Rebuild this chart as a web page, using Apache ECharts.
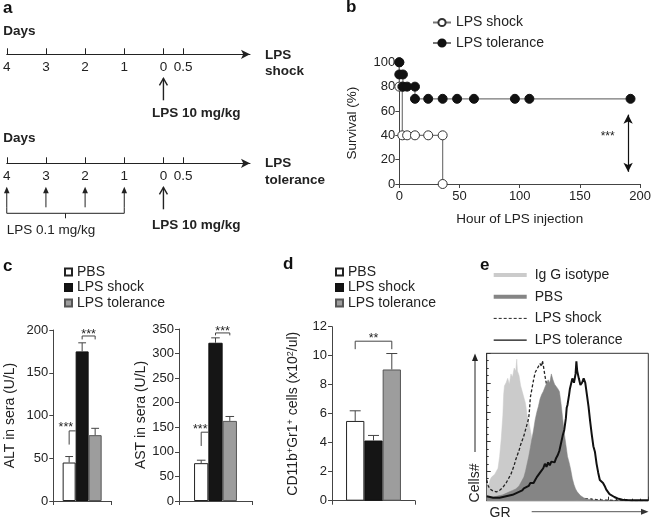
<!DOCTYPE html>
<html><head><meta charset="utf-8">
<script src="https://cdn.jsdelivr.net/npm/echarts@6/dist/echarts.min.js"></script>
<style>html,body{margin:0;padding:0;background:#fff}#c{width:654px;height:523px}</style>
</head><body><div id="c"></div>
<script>
// ---------------- data ----------------
// panel a: protocol timeline (days)
const dayTicks = [-4, -3, -2, -1, 0, 0.5];
const highDoseDays = [0];
const lowDoseDays = [-4, -3, -2, -1];

// panel b: survival (hour, %)
const shockSurvival = [[0,100],[0,80],[2.5,80],[2.5,40],[6.5,40],[13,40],[24,40],[36,40],[36,0]];
const toleranceSurvival = [[0,100],[0,90],[3,90],[3,80],[6.5,80],[13,80],[13,70],[24,70],[36,70],[48,70],[62,70],[96,70],[108,70],[192,70]];
const survivalSigArrow = [190, 57, 10];   // hour, from %, to %
const survivalSigLabel = [173, 38.6, '***'];

// panel c / d: bar groups
const groups = ['PBS', 'LPS shock', 'LPS tolerance'];
const altMean = [45, 175, 77],  altErr = [7, 10, 8];
const astMean = [77, 322, 163], astErr = [6, 10, 9];
const cdMean = [5.5, 4.15, 9.05], cdErr = [0.7, 0.35, 1.1];
const altBrackets = [
  {from:0, to:0.5, top:82, end1:66, end2:82, label:'***', labelAt:-0.25, labelDy:-3},
  {from:1, to:2, top:193, end1:189, end2:189, label:'***', labelAt:1.5, labelDy:-1.3}
];
const astBrackets = [
  {from:0, to:0.5, top:140, end1:112, end2:140, label:'***', labelAt:-0.07, labelDy:-3},
  {from:1, to:2, top:342, end1:337, end2:337, label:'***', labelAt:1.5, labelDy:-1.3}
];
const cdBrackets = [
  {from:0, to:2, top:11, end1:10.45, end2:10.45, label:'**', labelAt:1, labelDy:-2.3}
];

// panel e: flow histograms (GR channel 0-100, % of max)
const isoHist = [[0,12],[1,9],[2,14],[3,16],[4,15],[5,18],[6,17],[7,22],[8,30],[9,42],[10,58],[10.5,72],[11,78],[12,80],[13,83],[14,79],[15,86],[16,84],[17,90],[18,88],[18.6,96],[19,88],[20,85],[21,78],[22,74],[23,70],[24,66],[25,58],[26,54],[27,48],[28,42],[29,38],[30,33],[31,29],[32,25],[33,21],[34,17],[35,14],[36,11],[38,8],[40,6],[42,4],[44,3],[46,2.2],[48,1.8],[50,1.2],[53,0.8],[56,0.5],[60,0.3],[65,0],[100,0]];
const pbsHist = [[0,3],[2,2],[4,2.5],[6,3],[8,3.5],[10,4],[12,5],[14,6],[16,7],[18,8],[20,10],[21,12],[22,14],[23,16],[24,20],[25,25],[26,30],[27,36],[28,42],[29,48],[30,55],[31,60],[32,64],[33,69],[34,72],[35,74],[36,77],[37,76],[38,82],[39,80],[40,86],[41,82],[42,79],[43,80],[44,76],[45,74],[46,66],[47,56],[48,46],[49,38],[50,30],[51,26],[52,21],[53,15],[54,11],[55,8],[56,6],[58,3.5],[60,2],[62,1.2],[65,0.6],[70,0.3],[75,0],[100,0]];
const shockHist = [[0,14],[1,10],[2,8],[3,7],[4,6.5],[5,6],[6,6],[7,6.5],[8,7],[9,8],[10,9],[11,10.5],[12,12],[13,14],[14,16],[15,18],[16,21],[17,24],[18,28],[19,31],[20,34],[21,38],[22,41],[23,44],[24,48],[25,52],[26,56],[26.5,62],[27,70],[28,76],[29,82],[30,87],[31,89],[32,90],[33,93],[34,91],[34.5,95],[35,92],[36,85],[37,79],[38,76],[39,72],[40,68],[41,63],[42,58],[43,52],[44,46],[45,40],[46,33],[47,27],[48,21],[49,16],[50,12],[52,7],[54,4],[56,2.5],[60,1.5],[65,1],[70,0.5],[80,0.2],[100,0]];
const tolHist = [[0,3],[2,2.5],[4,2],[6,2],[8,2],[10,2.5],[12,3],[14,3.5],[16,4],[18,5],[20,6],[22,7],[23,8.4],[24,9],[26,10],[27,12],[28,13],[29,12],[30,14],[31,16],[32,17.5],[33,19],[34,20],[35,22],[36,25],[37,23],[38,26],[39,24],[40,26.5],[41,27],[42,26],[43,29],[44,31],[45,34],[46,39],[47,44],[48,48],[49,56],[49.5,63],[50,65],[51,72],[51.5,76],[52,75],[53,83],[54,80],[55,86],[55.5,94.5],[56,88],[57,83],[58,78.5],[59,80],[60,83],[61,80],[62,72],[63,64],[64,54],[65,45],[66,37],[67,33],[68,25],[69,19],[70,14],[71,13],[72,12],[73,10],[74,7.5],[75,6],[76,4.5],[77,3.5],[79,2.5],[81,1.5],[84,0.6],[87,0.4],[90,0.3],[100,0.3]];

// ---------------- chart ----------------
const FF = '"Liberation Sans", Arial, Helvetica, sans-serif';
const INK = '#222';
const AX = '#444';
const nameOf = n => n.split('|')[1];
const chart = echarts.init(document.getElementById('c'), null, {renderer: 'canvas'});

function timelineAxis(gi) {
  return {gridIndex: gi, type: 'value', min: -4, max: 2.21,
    axisLine: {show: true, symbol: ['none', 'arrow'], symbolSize: [7, 9], lineStyle: {color: INK, width: 1}},
    axisTick: {show: true, inside: true, length: 6, customValues: dayTicks, lineStyle: {color: INK}},
    axisLabel: {show: true, customValues: dayTicks, formatter: v => String(Math.abs(v)), margin: 6, fontSize: 13.5, color: INK, fontFamily: FF},
    splitLine: {show: false}};
}
function hiddenY(gi) { return {gridIndex: gi, type: 'value', min: 0, max: 1, show: false}; }

function highDoseSeries(gi, textOff) {
  return {type: 'custom', xAxisIndex: gi, yAxisIndex: gi, clip: false, silent: true,
    data: highDoseDays.map(d => [d, 0]),
    renderItem(params, api) {
      const p = api.coord([api.value(0), 0]);
      const x = p[0], y = p[1];
      return {type: 'group', children: [
        {type: 'line', shape: {x1: x, y1: y + 46, x2: x, y2: y + 24}, style: {stroke: INK, lineWidth: 1.4}},
        {type: 'polyline', shape: {points: [[x - 4, y + 31], [x, y + 24], [x + 4, y + 31]]}, style: {stroke: INK, lineWidth: 1.4, fill: null}},
        {type: 'text', x: x - 11.5, y: y + textOff, style: {text: 'LPS 10 mg/kg', fontFamily: FF, fontSize: 13.5, fontWeight: 'bold', fill: INK, align: 'left', verticalAlign: 'middle'}}
      ]};
    }};
}
function lowDoseSeries(gi) {
  return {type: 'custom', xAxisIndex: gi, yAxisIndex: gi, clip: false, silent: true,
    data: lowDoseDays.map(d => [d, 0]),
    renderItem(params, api) {
      const p = api.coord([api.value(0), 0]);
      const x = p[0], y = p[1];
      const ch = [
        {type: 'line', shape: {x1: x, y1: y + 44, x2: x, y2: y + 28}, style: {stroke: INK, lineWidth: 1}},
        {type: 'polygon', shape: {points: [[x - 2.8, y + 30], [x, y + 23.5], [x + 2.8, y + 30]]}, style: {fill: INK}}
      ];
      if (params.dataIndex === 0) {
        const xs = lowDoseDays.map(d => api.coord([d, 0])[0]);
        const x0 = Math.min(...xs), x1 = Math.max(...xs), xm = (x0 + x1) / 2;
        ch.push({type: 'polyline', shape: {points: [[x0, y + 44], [x0, y + 50], [x1, y + 50], [x1, y + 44]]}, style: {stroke: INK, lineWidth: 1, fill: null}});
        ch.push({type: 'line', shape: {x1: xm, y1: y + 50, x2: xm, y2: y + 55}, style: {stroke: INK, lineWidth: 1}});
        ch.push({type: 'text', x: x0, y: y + 66.7, style: {text: 'LPS 0.1 mg/kg', fontFamily: FF, fontSize: 13.5, fill: INK, align: 'left', verticalAlign: 'middle'}});
      }
      return {type: 'group', children: ch};
    }};
}

function barAxisX(gi) {
  return {gridIndex: gi, type: 'category', data: ['v'],
    axisLine: {show: true, lineStyle: {color: AX}}, axisTick: {show: true, length: 4, lineStyle: {color: AX}},
    axisLabel: {show: false}, splitLine: {show: false}};
}
function barAxisY(gi, max, interval, name, nameGap, extra) {
  return Object.assign({gridIndex: gi, type: 'value', min: 0, max: max, interval: interval,
    name: name, nameLocation: 'middle', nameGap: nameGap, nameRotate: 90,
    nameTextStyle: {fontSize: 14, color: INK, fontFamily: FF},
    axisLine: {show: true, lineStyle: {color: AX}}, axisTick: {show: true, length: 4, lineStyle: {color: AX}},
    axisLabel: {fontSize: 13, color: INK, fontFamily: FF, margin: 5}, splitLine: {show: false}}, extra || {});
}
const barStyles = [
  {color: '#ffffff', borderColor: '#222', borderWidth: 1},
  {color: '#151515', borderColor: '#111', borderWidth: 1},
  {color: '#9d9d9d', borderColor: '#555', borderWidth: 1}
];
function barSeries(gi, prefix, means, bw) {
  return groups.map((g, i) => ({type: 'bar', name: prefix + '|' + g, xAxisIndex: gi, yAxisIndex: gi,
    data: [means[i]], barWidth: bw, barGap: '0%', itemStyle: barStyles[i], z: 2}));
}
function errSeries(gi, means, errs, bw) {
  return {type: 'custom', xAxisIndex: gi, yAxisIndex: gi, clip: false, silent: true, z: 5,
    data: means.map((m, i) => [0, m, errs[i], i]),
    renderItem(params, api) {
      const base = api.coord([0, api.value(1)]);
      const top = api.coord([0, api.value(1) + api.value(2)]);
      const x = base[0] + (api.value(3) - 1) * bw;
      const cap = bw * 0.3;
      return {type: 'group', children: [
        {type: 'line', shape: {x1: x, y1: base[1], x2: x, y2: top[1]}, style: {stroke: '#444', lineWidth: 1}},
        {type: 'line', shape: {x1: x - cap, y1: top[1], x2: x + cap, y2: top[1]}, style: {stroke: '#444', lineWidth: 1}}
      ]};
    }};
}
function bracketSeries(gi, list, bw) {
  return {type: 'custom', xAxisIndex: gi, yAxisIndex: gi, clip: false, silent: true, z: 6,
    data: list.map((b, i) => [0, b.top, i]),
    renderItem(params, api) {
      const b = list[params.dataIndex];
      const c = api.coord([0, b.top]);
      const xAt = g => c[0] + (g - 1) * bw;
      const yAt = v => api.coord([0, v])[1];
      const x1 = xAt(b.from), x2 = xAt(b.to), yt = c[1];
      return {type: 'group', children: [
        {type: 'polyline', shape: {points: [[x1, yAt(b.end1)], [x1, yt], [x2, yt], [x2, yAt(b.end2)]]}, style: {stroke: '#444', lineWidth: 1, fill: null}},
        {type: 'text', x: xAt(b.labelAt), y: yt + b.labelDy, style: {text: b.label, fontFamily: FF, fontSize: 12.5, fill: INK, align: 'center', verticalAlign: 'middle'}}
      ]};
    }};
}

const BW_ALT = 13, BW_AST = 14.3, BW_CD = 18.3;
const legendText = {fontSize: 14, color: INK, fontFamily: FF};

const option = {
  animation: false,
  backgroundColor: '#fff',
  textStyle: {fontFamily: FF, color: INK},
  grid: [
    {left: 6.7, top: 44, width: 243.3, height: 10.3},
    {left: 6.7, top: 153, width: 243.3, height: 10.3},
    {left: 399.3, top: 62.3, width: 243, height: 121.7},
    {left: 53.3, top: 330, width: 57.7, height: 171},
    {left: 179, top: 329, width: 73, height: 172},
    {left: 332, top: 326.7, width: 83, height: 174},
    {left: 486.7, top: 353.3, width: 161.6, height: 147.4, show: true, borderColor: '#333', borderWidth: 1, backgroundColor: 'transparent'}
  ],
  xAxis: [
    timelineAxis(0), timelineAxis(1),
    {gridIndex: 2, type: 'value', min: 0, max: 200, interval: 50,
      name: 'Hour of LPS injection', nameLocation: 'middle', nameGap: 28,
      nameTextStyle: {fontSize: 13.5, color: INK, fontFamily: FF},
      axisLine: {show: true, lineStyle: {color: AX}}, axisTick: {show: true, length: 4, lineStyle: {color: AX}},
      axisLabel: {fontSize: 13, color: INK, fontFamily: FF, margin: 6}, splitLine: {show: false}},
    barAxisX(3), barAxisX(4), barAxisX(5),
    {gridIndex: 6, type: 'value', min: 0, max: 100, interval: 25,
      axisLine: {show: true, lineStyle: {color: '#333'}},
      axisTick: {show: true, inside: true, length: 4, lineStyle: {color: '#333'}},
      minorTick: {show: true, splitNumber: 5, length: 2, lineStyle: {color: '#333'}},
      axisLabel: {show: false}, splitLine: {show: false}}
  ],
  yAxis: [
    hiddenY(0), hiddenY(1),
    {gridIndex: 2, type: 'value', min: 0, max: 100, interval: 20,
      name: 'Survival (%)', nameLocation: 'middle', nameGap: 40.5, nameRotate: 90,
      nameTextStyle: {fontSize: 13.5, color: INK, fontFamily: FF},
      axisLine: {show: true, lineStyle: {color: AX}}, axisTick: {show: true, length: 4, lineStyle: {color: AX}},
      axisLabel: {fontSize: 13, color: INK, fontFamily: FF, margin: 4}, splitLine: {show: false}},
    barAxisY(3, 200, 50, 'ALT in sera (U/L)', 36),
    barAxisY(4, 350, 50, 'AST in sera (U/L)', 25),
    barAxisY(5, 12, 2, 'CD11b{s|+}Gr1{s|+} cells (x10{s|2}/ul)', 31.5,
      {nameTextStyle: {fontSize: 14, color: INK, fontFamily: FF, rich: {s: {fontSize: 9, verticalAlign: 'top', fontFamily: FF, color: INK}}}}),
    {gridIndex: 6, type: 'value', min: 0, max: 100, interval: 20,
      axisLine: {show: true, lineStyle: {color: '#333'}},
      axisTick: {show: true, inside: true, length: 4, lineStyle: {color: '#333'}},
      minorTick: {show: true, splitNumber: 4, length: 2, lineStyle: {color: '#333'}},
      axisLabel: {show: false}, splitLine: {show: false}}
  ],
  legend: [
    {data: ['b|LPS shock', 'b|LPS tolerance'], formatter: nameOf, orient: 'vertical', left: 432, top: 15.5,
      itemWidth: 18, itemHeight: 9, itemGap: 6.5, padding: 0, textStyle: legendText},
    {data: ['c|PBS', 'c|LPS shock', 'c|LPS tolerance'], formatter: nameOf, orient: 'vertical', left: 64, top: 265,
      icon: 'rect', itemWidth: 7, itemHeight: 7, itemGap: 1.5, padding: 0, textStyle: legendText},
    {data: ['d|PBS', 'd|LPS shock', 'd|LPS tolerance'], formatter: nameOf, orient: 'vertical', left: 335, top: 265,
      icon: 'rect', itemWidth: 7, itemHeight: 7, itemGap: 1.5, padding: 0, textStyle: legendText},
    {data: [{name: 'e|Ig G isotype', lineStyle: {width: 4}}, {name: 'e|PBS', lineStyle: {width: 4}},
            {name: 'e|LPS shock', lineStyle: {width: 1}}, {name: 'e|LPS tolerance', lineStyle: {width: 1.2}}],
      formatter: nameOf, orient: 'vertical', left: 491.7, top: 268, itemWidth: 33, itemHeight: 10, itemGap: 7.7, padding: 0,
      itemStyle: {opacity: 0},
      textStyle: {fontSize: 14, color: INK, fontFamily: FF, padding: [0, 0, 0, 3]}}
  ],
  series: [
    highDoseSeries(0, 58.7),
    highDoseSeries(1, 61.7),
    lowDoseSeries(1),
    {type: 'line', name: 'b|LPS shock', xAxisIndex: 2, yAxisIndex: 2, data: shockSurvival,
      symbol: 'circle', symbolSize: 9, showAllSymbol: true, z: 3,
      lineStyle: {color: '#777', width: 1.2}, itemStyle: {color: '#fff', borderColor: '#333', borderWidth: 1}},
    {type: 'line', name: 'b|LPS tolerance', xAxisIndex: 2, yAxisIndex: 2, data: toleranceSurvival,
      symbol: 'circle', symbolSize: 9, showAllSymbol: true, z: 4,
      lineStyle: {color: '#777', width: 1.2}, itemStyle: {color: '#111', borderColor: '#111', borderWidth: 1},
      markLine: {silent: true, symbol: ['arrow', 'arrow'], symbolSize: [7, 9], label: {show: false},
        lineStyle: {color: '#111', width: 1.2, type: 'solid'},
        data: [[{coord: [survivalSigArrow[0], survivalSigArrow[1]]}, {coord: [survivalSigArrow[0], survivalSigArrow[2]]}]]},
      markPoint: {silent: true, symbol: 'circle', symbolSize: 0,
        data: [{coord: [survivalSigLabel[0], survivalSigLabel[1]], label: {show: true, formatter: survivalSigLabel[2], position: 'inside', fontSize: 12, color: INK, fontFamily: FF}}]}},
    ...barSeries(3, 'c', altMean, BW_ALT), errSeries(3, altMean, altErr, BW_ALT), bracketSeries(3, altBrackets, BW_ALT),
    ...barSeries(4, 'c', astMean, BW_AST), errSeries(4, astMean, astErr, BW_AST), bracketSeries(4, astBrackets, BW_AST),
    ...barSeries(5, 'd', cdMean, BW_CD), errSeries(5, cdMean, cdErr, BW_CD), bracketSeries(5, cdBrackets, BW_CD),
    {type: 'line', name: 'e|Ig G isotype', xAxisIndex: 6, yAxisIndex: 6, data: isoHist, symbol: 'none', z: 2,
      lineStyle: {color: '#cbcbcb', width: 0.5}, areaStyle: {color: '#cbcbcb', opacity: 1}},
    {type: 'line', name: 'e|PBS', xAxisIndex: 6, yAxisIndex: 6, data: pbsHist, symbol: 'none', z: 4,
      lineStyle: {color: '#858585', width: 0.5}, areaStyle: {color: '#858585', opacity: 1}},
    {type: 'line', name: 'e|LPS shock', xAxisIndex: 6, yAxisIndex: 6, data: shockHist, symbol: 'none', z: 3,
      lineStyle: {color: '#222', width: 1.3, type: [3, 2]}},
    {type: 'line', name: 'e|LPS tolerance', xAxisIndex: 6, yAxisIndex: 6, data: tolHist, symbol: 'none', z: 5,
      lineStyle: {color: '#111', width: 2}}
  ],
  graphic: [
    {type: 'text', left: 3, top: 0, style: {text: 'a', fontFamily: FF, fontSize: 17, fontWeight: 'bold', fill: '#111'}},
    {type: 'text', left: 346, top: -1, style: {text: 'b', fontFamily: FF, fontSize: 17, fontWeight: 'bold', fill: '#111'}},
    {type: 'text', left: 3, top: 258, style: {text: 'c', fontFamily: FF, fontSize: 17, fontWeight: 'bold', fill: '#111'}},
    {type: 'text', left: 283, top: 256, style: {text: 'd', fontFamily: FF, fontSize: 17, fontWeight: 'bold', fill: '#111'}},
    {type: 'text', left: 480, top: 257, style: {text: 'e', fontFamily: FF, fontSize: 17, fontWeight: 'bold', fill: '#111'}},
    {type: 'text', x: 3.3, y: 31, style: {text: 'Days', fontFamily: FF, fontSize: 13.5, fontWeight: 'bold', fill: INK, verticalAlign: 'middle'}},
    {type: 'text', x: 3.3, y: 138, style: {text: 'Days', fontFamily: FF, fontSize: 13.5, fontWeight: 'bold', fill: INK, verticalAlign: 'middle'}},
    {type: 'text', x: 265, y: 55, style: {text: 'LPS', fontFamily: FF, fontSize: 13.5, fontWeight: 'bold', fill: INK, verticalAlign: 'middle'}},
    {type: 'text', x: 265, y: 71.5, style: {text: 'shock', fontFamily: FF, fontSize: 13.5, fontWeight: 'bold', fill: INK, verticalAlign: 'middle'}},
    {type: 'text', x: 265, y: 163.5, style: {text: 'LPS', fontFamily: FF, fontSize: 13.5, fontWeight: 'bold', fill: INK, verticalAlign: 'middle'}},
    {type: 'text', x: 265, y: 180, style: {text: 'tolerance', fontFamily: FF, fontSize: 13.5, fontWeight: 'bold', fill: INK, verticalAlign: 'middle'}},
    {type: 'text', x: 475, y: 483, rotation: Math.PI / 2, style: {text: 'Cells#', fontFamily: FF, fontSize: 14, fill: INK, align: 'center', verticalAlign: 'middle'}},
    {type: 'line', shape: {x1: 475, y1: 452, x2: 475, y2: 360}, style: {stroke: INK, lineWidth: 1}},
    {type: 'polygon', shape: {points: [[472, 361], [475, 353.5], [478, 361]]}, style: {fill: INK}},
    {type: 'text', x: 489.5, y: 512.7, style: {text: 'GR', fontFamily: FF, fontSize: 14, fill: INK, verticalAlign: 'middle'}},
    {type: 'line', shape: {x1: 531.7, y1: 511.7, x2: 642, y2: 511.7}, style: {stroke: '#555', lineWidth: 1}},
    {type: 'polygon', shape: {points: [[641, 508.7], [648.5, 511.7], [641, 514.7]]}, style: {fill: '#333'}}
  ]
};
chart.setOption(option);
</script>
</body></html>
